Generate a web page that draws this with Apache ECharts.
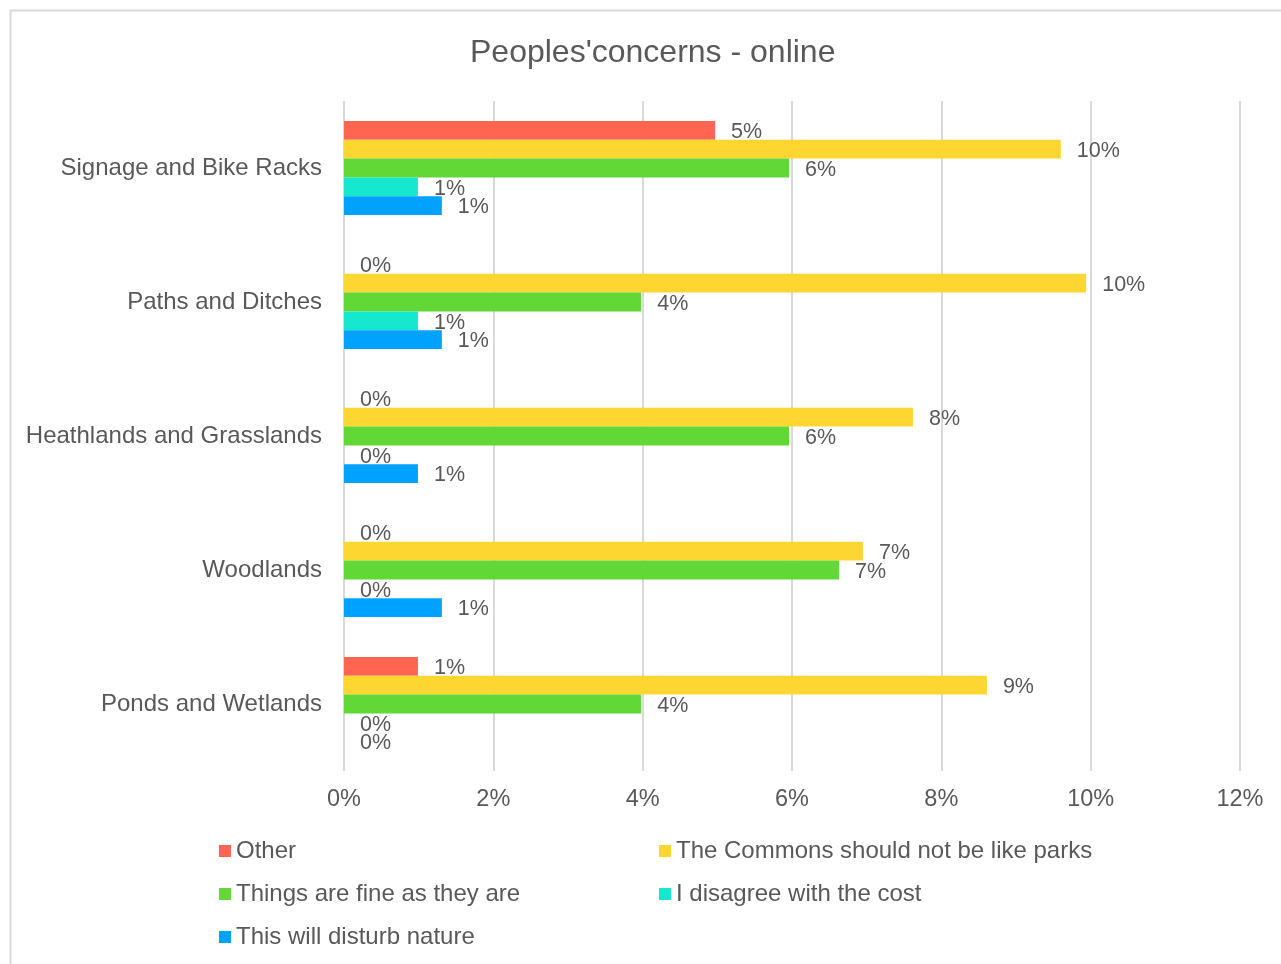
<!DOCTYPE html>
<html>
<head>
<meta charset="utf-8">
<script src="https://cdn.jsdelivr.net/npm/echarts@6/dist/echarts.min.js"></script>
<style>
  html, body { margin: 0; padding: 0; background: #fff; }
  #chart { width: 1281px; height: 964px; }
</style>
</head>
<body>
<div id="chart"></div>
<script>
// Areas of the Commons (top to bottom)
const categories = ['Signage and Bike Racks', 'Paths and Ditches', 'Heathlands and Grasslands', 'Woodlands', 'Ponds and Wetlands'];

// Share of online respondents (percent) per concern
const other       = [4.97, 0, 0, 0, 0.99];
const notParks    = [9.60, 9.94, 7.62, 6.95, 8.61];
const fineAsIs    = [5.96, 3.98, 5.96, 6.63, 3.98];
const costDisagree = [0.99, 0.99, 0, 0, 0];
const disturbNature = [1.31, 1.31, 0.99, 1.31, 0];

const seriesNames = ['Other', 'The Commons should not be like parks', 'Things are fine as they are', 'I disagree with the cost', 'This will disturb nature'];
const seriesColors = ['#ff6550', '#fed631', '#61d836', '#16e7cf', '#00a2ff'];
const seriesData = [other, notParks, fineAsIs, costDisagree, disturbNature];

const xTicks = [0, 2, 4, 6, 8, 10, 12];

const FONT = '"Liberation Sans", Arial, sans-serif';
const TEXT = '#595959';

const chart = echarts.init(document.getElementById('chart'), null, { renderer: 'canvas' });

const legendCommon = {
  orient: 'vertical',
  icon: 'rect',
  itemWidth: 12,
  itemHeight: 12,
  itemGap: 19,
  padding: 0,
  textStyle: { fontFamily: FONT, fontSize: 24, color: TEXT, lineHeight: 24 },
  selectedMode: false
};

chart.setOption({
  animation: false,
  backgroundColor: '#fff',
  graphic: [{
    type: 'rect',
    shape: { x: 10.5, y: 10.5, width: 1400, height: 1100 },
    style: { fill: 'none', stroke: '#d9d9d9', lineWidth: 2 },
    silent: true,
    z: -1
  }],
  title: {
    text: "Peoples'concerns - online",
    left: 465,
    top: 32,
    textStyle: { fontFamily: FONT, fontSize: 32, fontWeight: 'normal', color: TEXT }
  },
  legend: [
    Object.assign({ left: 219, top: 839, data: [seriesNames[0], seriesNames[2], seriesNames[4]] }, legendCommon),
    Object.assign({ left: 659, top: 839, data: [seriesNames[1], seriesNames[3]] }, legendCommon)
  ],
  grid: { left: 344, right: 41, top: 101, bottom: 193, containLabel: false },
  xAxis: {
    type: 'value',
    min: xTicks[0],
    max: xTicks[xTicks.length - 1],
    interval: 2,
    axisLine: { show: false },
    axisTick: { show: false },
    splitLine: { show: true, lineStyle: { color: '#d9d9d9', width: 2 } },
    axisLabel: {
      formatter: v => v + '%',
      fontFamily: FONT, fontSize: 23.5, color: TEXT, margin: 17
    }
  },
  yAxis: {
    type: 'category',
    data: categories,
    inverse: true,
    axisLine: { show: false },
    axisTick: { show: false },
    axisLabel: { fontFamily: FONT, fontSize: 24, color: TEXT, margin: 22 }
  },
  series: seriesNames.map((name, i) => ({
    name,
    type: 'bar',
    data: seriesData[i],
    barGap: '0%',
    barCategoryGap: '30%',
    itemStyle: { color: seriesColors[i] },
    label: {
      show: true,
      position: 'right',
      distance: 16,
      offset: [0, 2],
      formatter: p => Math.round(p.value) + '%',
      fontFamily: FONT, fontSize: 21.5, color: TEXT
    }
  }))
});
</script>
</body>
</html>
